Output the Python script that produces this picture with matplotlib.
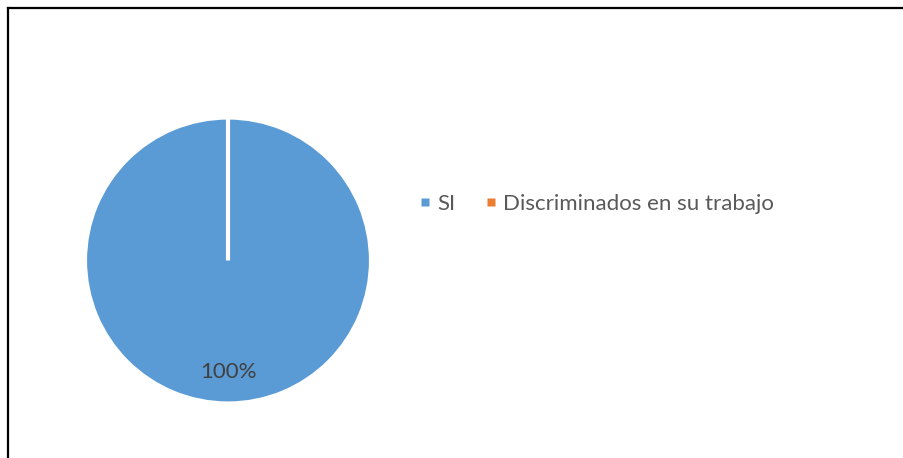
import matplotlib.pyplot as plt
from matplotlib.lines import Line2D

# datos
categorias = ["SI", "Discriminados en su trabajo"]
valores = [100, 0]
colores = ["#5B9BD5", "#ED7D31"]

W, H = 904, 458
fig = plt.figure(figsize=(W / 100, H / 100), dpi=100)
plt.rcParams['font.family'] = ['Lato', 'DejaVu Sans']

# pie: centro (228, 260.5) px, radio 143 px
cx, cy, r = 228, 260.5, 143
ax = fig.add_axes([(cx - r) / W, (H - cy - r) / H, 2 * r / W, 2 * r / H])


def etiqueta(p):
    return "%d%%" % round(p) if p > 0.5 else ""


wedges, textos, pct = ax.pie(valores, colors=colores, startangle=90, counterclock=False,
                             autopct=etiqueta, pctdistance=0.78,
                             wedgeprops=dict(edgecolor="white", linewidth=3),
                             textprops=dict(color="#404040", fontsize=16))
ax.set_xlim(-1, 1)
ax.set_ylim(-1, 1)
ax.set_aspect("equal")

# leyenda con cuadrados pequeños
marcas = [Line2D([], [], marker="s", linestyle="none", markersize=5.2,
                 markerfacecolor=c, markeredgecolor="none") for c in colores]
fs = 16
leg = fig.legend(marcas, categorias, loc="center left", ncol=2,
                 bbox_to_anchor=(421 / W, 1 - 204 / H), frameon=False,
                 fontsize=fs, handlelength=0.32,
                 handletextpad=0.4, columnspacing=1.45, borderpad=0,
                 borderaxespad=0)
for t in leg.get_texts():
    t.set_color("#595959")

# marco del gráfico
fig.add_artist(Line2D([8 / W, 8 / W], [0, 1 - 8 / H], color="black", linewidth=1.6))
fig.add_artist(Line2D([8 / W, 1], [1 - 8 / H, 1 - 8 / H], color="black", linewidth=1.6))

fig.savefig("out.png", dpi=100)
